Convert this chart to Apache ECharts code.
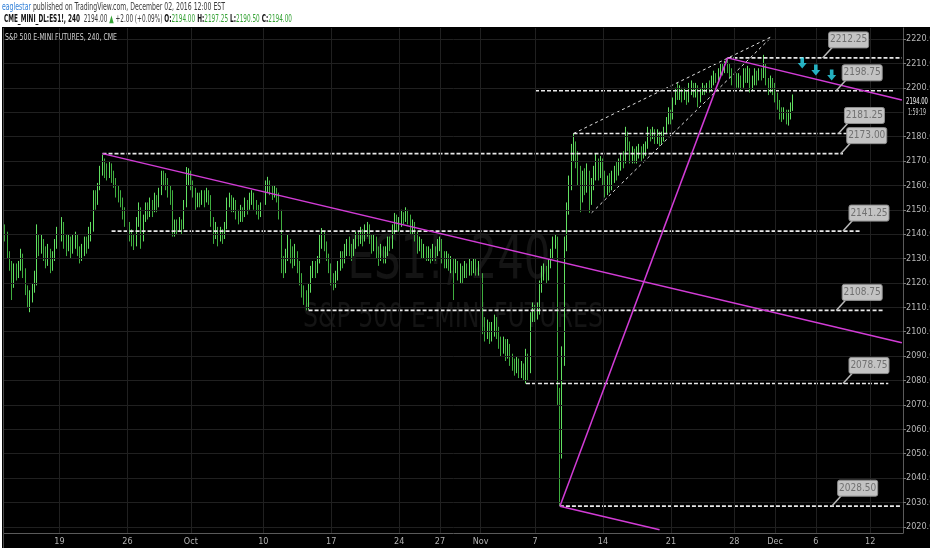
<!DOCTYPE html>
<html><head><meta charset="utf-8">
<script src="https://cdn.jsdelivr.net/npm/echarts@6/dist/echarts.min.js"></script>
<style>html,body{margin:0;padding:0;background:#000}#c{width:932px;height:550px}</style>
</head><body><div id="c"></div>
<script>
// ---------- DATA (ES1! 240-minute bars, Sep 13 – Dec 2 2016) ----------
const firstOpen = 2141;
const closes = [
 2140,2132,2128,2120,
 2126,2124,2127,2131,2125,2118, 2112,2114,2118,2121,2138,2134, 2137,2132,2129,2133,2127,2131,
 2136,2141,2139,2144,2138,2135, 2137,2133,2136,2139,2134,2131, 2133,2137,2135,2140,2143,2155,
 2153,2159,2166,2169,2167,2165, 2168,2164,2162,2158,2156,2153, 2150,2147,2143,2140,2138,2136,
 2145,2150,2138,2146,2151,2149, 2153,2150,2155,2152,2157,2164, 2163,2161,2158,2155,2141,2144,
 2142,2145,2143,2152,2163,2165, 2160,2158,2152,2155,2153,2156, 2154,2157,2155,2146,2140,2142,
 2138,2141,2139,2143,2152,2155, 2151,2153,2148,2146,2150,2148, 2153,2151,2155,2156,2152,2150,
 2148,2151,2153,2160,2161,2158, 2156,2158,2155,2150,2128,2125, 2131,2136,2133,2129,2132,2127,
 2122,2117,2115,2111,2118,2124, 2127,2125,2129,2137,2140,2136, 2131,2127,2122,2120,2123,2127,
 2131,2129,2133,2136,2134,2132, 2136,2139,2137,2141,2138,2141, 2143,2139,2135,2138,2133,2130,
 2134,2131,2133,2137,2135,2142, 2147,2143,2145,2148,2146,2149, 2147,2142,2144,2139,2135,2137,
 2132,2134,2131,2133,2130,2134, 2132,2136,2138,2131,2128,2131, 2127,2129,2126,2128,2124,2126,
 2123,2127,2125,2128,2126,2129, 2126,2128,2123,2103,2099,2102, 2098,2101,2105,2100,2096,2093,
 2096,2091,2094,2090,2087,2085, 2088,2084,2086,2082,2090,2083, 2105,2110,2106,2109,2118,2124,
 2126,2122,2128,2132,2136,2138, 2075,2052,2090,2135,2150,2160, 2174,2176,2171,2165,2155,2162,
 2160,2165,2155,2161,2164,2168, 2166,2170,2163,2158,2161,2160, 2163,2166,2165,2168,2171,2170,
 2181,2177,2172,2174,2171,2173, 2175,2172,2175,2176,2181,2180, 2182,2179,2181,2178,2180,2182,
 2186,2190,2188,2194,2198,2197, 2199,2196,2198,2195,2199,2201, 2199,2200,2195,2198,2200,2199,
 2201,2200,2203,2205,2204, 2206,2208,2207,2210,2209,
 2206,2203,2205,2202,2204,2201, 2206,2204,2207,2201,2203,2205, 2204,2206,2205,2210,2203,2199,
 2203,2200,2196,2193,2190,2188, 2190,2187,2189,2192,2194
];
const highs = [
 2144,2141,2133,2129,
 2128,2128,2129,2134,2132,2126, 2119,2117,2120,2125,2144,2140, 2140,2138,2135,2136,2134,2133,
 2138,2143,2145,2147,2145,2140, 2140,2139,2140,2141,2140,2135, 2136,2139,2139,2143,2145,2158,
 2158,2161,2168,2172.5,2171,2169, 2170,2169,2166,2163,2160,2158, 2155,2151,2148,2145,2142,2140,
 2147,2153,2151,2148,2153,2153, 2155,2154,2157,2156,2159,2166, 2166,2165,2163,2160,2158,2146,
 2146,2147,2146,2154,2167.5,2167, 2166,2162,2159,2157,2157,2158, 2158,2159,2158,2156,2147,2145,
 2143,2143,2142,2145,2155,2157, 2156,2155,2154,2150,2152,2151, 2155,2154,2157,2158,2157,2154,
 2152,2153,2156,2162,2163.5,2162, 2160,2160,2159,2157,2146,2131, 2134,2140,2138,2135,2136,2133,
 2129,2124,2119,2117,2120,2127, 2129,2129,2131,2140,2142.5,2141, 2137,2132,2128,2124,2125,2129,
 2133,2133,2136,2138,2139,2136, 2138,2141,2141,2143,2142,2144, 2145,2144,2140,2140,2139,2135,
 2136,2135,2135,2139,2139,2144, 2148.7,2148,2147,2150,2149,2151, 2150,2148,2146,2145,2141,2139,
 2138,2136,2135,2135,2134,2136, 2135,2138,2139,2138,2133,2133, 2132,2131,2130,2130,2129,2128,
 2127,2129,2128,2130,2129,2130, 2130,2129,2129,2124,2106,2105, 2104,2104,2107,2106,2102,2098,
 2098,2097,2097,2095,2091,2089, 2090,2089,2088,2087,2093,2091, 2108,2112,2111,2112,2121,2127,
 2128,2127,2130,2134,2139,2140, 2139,2077,2094,2139,2153,2164, 2177,2181.25,2178,2174,2168,2166,
 2167,2169,2166,2163,2168,2173, 2171,2172,2171,2166,2164,2165, 2166,2168,2170,2171,2173,2174,
 2184,2182,2178,2176,2175,2176, 2177,2176,2177,2178,2184,2183, 2184,2183,2183,2182,2182,2184,
 2188,2192,2191,2196,2200,2202, 2201,2200,2200,2199,2202,2203, 2202,2202,2201,2200,2202,2201,
 2202,2203,2205,2207,2206, 2208,2210,2210,2211,2212.25,
 2210,2208,2207,2206,2206,2205, 2208,2208,2209,2208,2205,2208, 2207,2208,2208,2213.5,2210,2204,
 2205,2204,2202,2198,2195,2192, 2192,2191,2191,2194,2197.25
];
const lows = [
 2137,2130,2125,2113,
 2118,2121,2122,2125,2122,2115, 2110,2108,2112,2116,2119,2131, 2132,2129,2126,2127,2124,2125,
 2129,2134,2136,2137,2134,2131, 2133,2130,2132,2134,2131,2128, 2129,2131,2132,2134,2137,2141,
 2150,2152,2158,2164,2163,2162, 2163,2161,2159,2155,2153,2151, 2146,2143,2140,2137,2135,2133.5,
 2135,2143,2134,2137,2145,2146, 2147,2147,2149,2149,2151,2156, 2160,2158,2155,2152,2139,2139,
 2140,2141,2140,2142,2151,2160, 2158,2155,2150,2151,2151,2152, 2151,2153,2152,2143,2136,2138,
 2135,2137,2136,2138,2142,2151, 2149,2149,2146,2144,2145,2145, 2147,2148,2150,2152,2150,2148,
 2146,2147,2149,2152,2157,2156, 2154,2155,2153,2146,2124,2122, 2124,2129,2128,2126,2127,2124,
 2119,2114,2111,2108.75,2109,2116, 2122,2122,2124,2128,2134,2133, 2129,2124,2119,2117,2118,2121,
 2125,2126,2128,2131,2131,2129, 2131,2134,2135,2136,2135,2137, 2139,2136,2132,2133,2130,2127,
 2129,2128,2128,2131,2133,2134, 2140,2141,2141,2143,2144,2145, 2144,2140,2140,2137,2132,2133,
 2130,2130,2129,2129,2128,2129, 2129,2131,2133,2128,2126,2126, 2125,2124,2113,2124,2121,2120,
 2120,2122,2122,2123,2123,2124, 2123,2123,2120,2099,2096,2097, 2095,2096,2098,2097,2093,2090,
 2091,2088,2089,2086,2084,2082, 2083,2081,2081,2080,2078.75,2080, 2083,2104,2104,2105,2107,2116,
 2121,2120,2121,2126,2130,2134, 2070,2028.5,2048,2086,2133,2148, 2158,2170,2167,2160,2149,2153,
 2156,2157,2148.75,2152,2158,2162, 2162,2163,2160,2155,2156,2157, 2158,2161,2162,2164,2166,2167,
 2169,2174,2169,2169,2169,2169, 2171,2170,2171,2172,2175,2178, 2179,2177,2177,2176,2177,2178,
 2181,2185,2185,2187,2193,2195, 2195,2194,2195,2193,2194,2197, 2196,2196,2192,2194,2197,2197,
 2198,2198,2199,2201,2202, 2203,2205,2205,2206,2206,
 2204,2201,2201,2200,2200,2199, 2200,2202,2202,2198,2199,2201, 2201,2203,2203,2204,2201,2197,
 2198,2197,2194,2191,2187,2186, 2187,2185,2184.5,2187,2190.5
];
const slotCount = 397;             // bar slots shown, incl. empty future bars
const tickLabels = [[24,'19'],[54,'26'],[82,'Oct'],[114,'10'],[144,'17'],[174,'24'],[192,'27'],
  [210,'Nov'],[234,'7'],[264,'14'],[294,'21'],[322,'28'],[340,'Dec'],[358,'6'],[382,'12']];
const yTicks  = [2020,2030,2040,2050,2060,2070,2080,2090,2100,2110,2120,2130,2140,2150,2160,2170,2180,2190,2200,2210,2220];
const yLabels = [2020,2030,2040,2050,2060,2070,2080,2090,2100,2110,2120,2130,2140,2150,2160,2170,2180,2200,2210,2220];
const levels     = [2212.25, 2198.75, 2181.25, 2173.00, 2141.25, 2108.75, 2078.75, 2028.50];
const levelStart = [319, 234, 251, 43, 47, 134, 230, 245];
const levelEnd   = [396, 393, 388, 370, 378, 388, 390, 396];
const calloutAt  = [361, 367, 368, 369, 370, 367, 370, 365];
const trendA = [[43, 2173], [396, 2095.5]];
const trendB = [[245, 2028.5], [319, 2212.25]];
const trendC = [[319, 2212.25], [396, 2195]];
const trendD = [[245, 2028.5], [289, 2018.8]];
const wedgeUpper = [[251, 2181.25], [339, 2221.2]];
const wedgeLower = [[259, 2148.75], [338, 2220.4]];
const arrowMarks = [[352, 2210.2], [358, 2207.3], [365, 2205.2]];
const lastClose = 2194.00;
const countdown = '1:59:19';
const headerLine1 = [['eaglestar','blue'],[' published on TradingView.com, December 02, 2016 12:00 EST','grey']];
const headerLine2 = [['CME_MINI_DL:ES1!, 240','bold'],['  2194.00 ','grey'],['\u25B2','green'],[' +2.00 (+0.09%) ','grey'],
  ['O:','bold'],['2194.00','green'],[' H:','bold'],['2197.25','green'],[' L:','bold'],['2190.50','green'],[' C:','bold'],['2194.00','green']];
const chartTitle = 'S&P 500 E-MINI FUTURES, 240, CME';
const watermark1 = 'ES1!, 240';
const watermark2 = 'S&P 500 E-MINI FUTURES';

// ---------- BUILD ----------
const FONT = "'Liberation Sans Narrow','DejaVu Sans Condensed','Liberation Sans',sans-serif";
const MAG = '#d23cd6';
const cats = Array.from({length: slotCount}, (_, i) => String(i));
const tickMap = {}; tickLabels.forEach(([i, t]) => tickMap[i] = t);
const candles = closes.map((c, i) => {
  const o = i === 0 ? firstOpen : closes[i - 1];
  return [o, c, Math.min(lows[i], o, c), Math.max(highs[i], o, c)];
});

const mctx = document.createElement('canvas').getContext('2d');
function tw(t, size, bold) { mctx.font = (bold ? 'bold ' : '') + size + 'px ' + FONT; return mctx.measureText(t).width; }
const segColor = {blue:'#2f7fd8', grey:'#3a3a3a', bold:'#111', green:'#36a336'};
function row(id, segs, x, y, target, size, align, z) {
  let cx = 0;
  const ch = segs.map(([t, k]) => {
    const bold = k === 'bold';
    const el = {type:'text', x:cx, y:0, z:z, style:{text:t, fontSize:size, fontFamily:FONT, fontWeight:bold ? 'bold' : 'normal',
      fill:segColor[k] || k, verticalAlign:'middle', align:'left'}};
    cx += tw(t, size, bold); return el;
  });
  const s = target / cx;
  return {type:'group', id, x: align === 'center' ? x - target / 2 : x, y, scaleX:s, children:ch, z:z};
}

const chart = echarts.init(document.getElementById('c'), null, {width:932, height:550});
const lineSer = (pts, color, type, width, z) => ({type:'line', data:pts, symbol:'none', silent:true, clip:true,
  lineStyle:{color, type, width}, z, animation:false});

const option = {
  backgroundColor:'#000',
  animation:false,
  grid:{left:4, right:29, top:28, bottom:17, containLabel:false, outerBoundsMode:'none'},
  xAxis:{type:'category', data:cats, boundaryGap:true,
    axisLine:{show:true, lineStyle:{color:'#5a5a5a'}},
    axisTick:{show:true, inside:true, length:3, alignWithLabel:true, interval:(i) => (i in tickMap), lineStyle:{color:'#777'}},
    axisLabel:{interval:(i) => (i in tickMap), formatter:(v, i) => tickMap[i] || '', color:'#b0b0b0', fontSize:9, margin:4, fontFamily:FONT},
    splitLine:{show:false}},
  yAxis:{type:'value', position:'right', min:2017.5, max:2224.5,
    axisLine:{show:true, lineStyle:{color:'#5a5a5a'}},
    axisTick:{show:true, length:3, lineStyle:{color:'#777'}, customValues:yLabels},
    axisLabel:{color:'#b8b8b8', fontSize:9, margin:3, fontFamily:FONT, customValues:yLabels, formatter:(v) => Number(v).toFixed(2)},
    splitLine:{show:false}},
  series:[
    {type:'line', data:[], silent:true, z:1, markLine:{silent:true, symbol:['none','none'], animation:false, label:{show:false},
      lineStyle:{color:'#202020', type:'solid', width:1},
      data:[...yTicks.map(v => ({yAxis:v})), ...tickLabels.map(t => ({xAxis:String(t[0])}))]}},
    {type:'candlestick', data:candles, barWidth:1, z:3, silent:true,
      itemStyle:{color:'#4ccf4c', color0:'#2c8a2c', borderColor:'#62e062', borderColor0:'#3fae3f', borderWidth:1}},
    ...levels.map((lv, k) => lineSer([[levelStart[k], lv], [levelEnd[k], lv]], '#e8e8e8', [4, 2], 1.6, 4)),
    lineSer(wedgeUpper, '#e0e0e0', [3, 3], 1, 4),
    lineSer(wedgeLower, '#e0e0e0', [3, 3], 1, 4),
    lineSer(trendA, MAG, 'solid', 1.5, 5),
    lineSer(trendB, MAG, 'solid', 1.5, 5),
    lineSer(trendC, MAG, 'solid', 1.5, 5),
    lineSer(trendD, MAG, 'solid', 1.5, 5),
    {type:'custom', data:levels.map((lv, k) => [calloutAt[k], lv]), z:6, silent:true, clip:false,
      renderItem:(p, api) => {
        const c = api.coord([api.value(0), api.value(1)]);
        const txt = Number(api.value(1)).toFixed(2);
        return {type:'group', children:[
          {type:'line', shape:{x1:c[0], y1:c[1], x2:c[0] + 10, y2:c[1] - 11}, style:{stroke:'#b8b8b8', lineWidth:1.5}},
          {type:'rect', shape:{x:c[0] + 6, y:c[1] - 26, width:40, height:16, r:2}, style:{fill:'#c3c3c3', stroke:'#8e8e8e', lineWidth:1}},
          {type:'text', style:{x:c[0] + 26, y:c[1] - 18, text:txt, fill:'#707070', fontSize:10, fontFamily:FONT, align:'center', verticalAlign:'middle'}}
        ]};
      }},
    {type:'scatter', data:arrowMarks, silent:true, z:7, symbol:'path://M4,0 L8,0 L8,6 L11,6 L6,12 L1,6 L4,6 Z',
      symbolSize:[9, 11], itemStyle:{color:'#2ddcf0'}}
  ]
};
chart.setOption(option);

const yLast = chart.convertToPixel({yAxisIndex:0}, lastClose);
const graphics = [
  {type:'rect', id:'hdr', shape:{x:0, y:0, width:932, height:27}, style:{fill:'#fff'}, z:40},
  {type:'rect', id:'bl', shape:{x:0, y:0, width:2, height:550}, style:{fill:'#fff'}, z:40},
  {type:'rect', id:'br', shape:{x:930, y:0, width:2, height:550}, style:{fill:'#fff'}, z:40},
  {type:'rect', id:'bb', shape:{x:0, y:548, width:932, height:2}, style:{fill:'#fff'}, z:40},
  {type:'line', id:'lb', shape:{x1:3.5, y1:28, x2:3.5, y2:548}, style:{stroke:'#4a4a4a', lineWidth:1}, z:40},
  row('h1', headerLine1, 2, 7, 223, 10, 'left', 60),
  row('h2', headerLine2, 4, 19, 288, 10, 'left', 60),
  row('ttl', [[chartTitle, '#d0d0d0']], 5, 38, 112, 9, 'left', 45),
  row('wm1', [[watermark1, '#141414']], 449, 262, 203, 60, 'center', 0),
  row('wm2', [[watermark2, '#141414']], 453, 318, 300, 34, 'center', 0),
  row('lp', [[lastClose.toFixed(2), '#f2f2f2']], 906, yLast - 1, 22, 9, 'left', 45),
  row('cd', [[countdown, '#cfcfcf']], 908, yLast + 10, 18, 9, 'left', 45)
];
chart.setOption({graphic:graphics});
</script>
</body></html>
